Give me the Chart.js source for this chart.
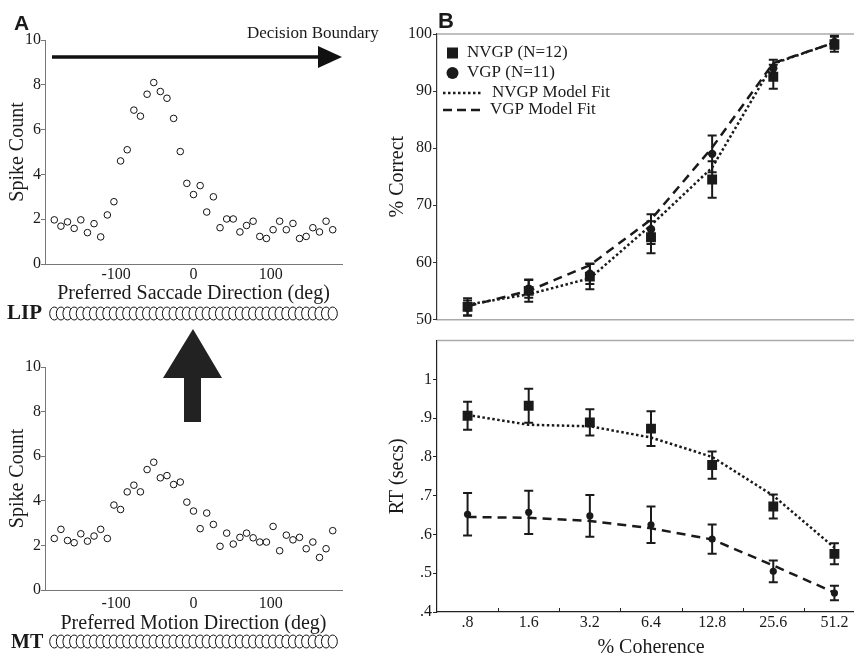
<!DOCTYPE html>
<html><head><meta charset="utf-8">
<script src="https://cdn.jsdelivr.net/npm/chart.js@4.4.0/dist/chart.umd.min.js"></script>
<style>
html,body{margin:0;padding:0;background:#fff;width:854px;height:658px;overflow:hidden;position:relative;}
canvas{position:absolute;}
.lbl{position:absolute;font-family:'Liberation Serif',serif;color:#1a1a1a;white-space:nowrap;line-height:1;}
.pl{font-family:'Liberation Sans',Arial,sans-serif;font-weight:bold;}
</style></head><body>
<canvas id="lip" width="360" height="330" style="left:0;top:0"></canvas>
<canvas id="mt" width="360" height="331" style="left:0;top:327px"></canvas>
<canvas id="acc" width="490" height="330" style="left:380px;top:0"></canvas>
<canvas id="rt" width="490" height="330" style="left:380px;top:330px"></canvas>
<svg style="position:absolute;left:0;top:0" width="854" height="658">
  <line x1="52" y1="57" x2="320" y2="57" stroke="#111" stroke-width="3.5"/>
  <polygon points="318,46 342,57 318,68" fill="#111"/>
  <polygon points="193,329 163,378 184,378 184,422 201,422 201,378 222,378" fill="#222"/>
</svg>
<div class="lbl pl" style="left:14px;top:12px;font-size:21px">A</div>
<div class="lbl pl" style="left:438px;top:10px;font-size:22px">B</div>
<div class="lbl" style="left:247px;top:24px;font-size:17px">Decision Boundary</div>
<div class="lbl" style="left:7px;top:302px;font-size:21px;font-weight:bold">LIP</div>
<div class="lbl" style="left:11px;top:631px;font-size:20px;font-weight:bold">MT</div>
<script>
// ---------- Panel A data ----------
const directions = [-180,-171.4,-162.9,-154.3,-145.7,-137.1,-128.6,-120,-111.4,-102.9,-94.3,-85.7,-77.1,-68.6,-60,-51.4,-42.9,-34.3,-25.7,-17.1,-8.6,0,8.6,17.1,25.7,34.3,42.9,51.4,60,68.6,77.1,85.7,94.3,102.9,111.4,120,128.6,137.1,145.7,154.3,162.9,171.4,180];
const lipSpikes = [1.97,1.69,1.88,1.59,1.97,1.40,1.80,1.21,2.19,2.78,4.6,5.1,6.87,6.6,7.58,8.1,7.7,7.4,6.5,5.02,3.6,3.1,3.5,2.32,3.0,1.62,2.01,2.01,1.43,1.72,1.91,1.23,1.14,1.53,1.91,1.53,1.81,1.14,1.23,1.62,1.43,1.91,1.53];
const mtSpikes = [2.31,2.72,2.22,2.12,2.52,2.19,2.42,2.72,2.31,3.81,3.61,4.40,4.70,4.40,5.40,5.73,5.03,5.13,4.73,4.84,3.94,3.54,2.75,3.45,2.94,1.96,2.55,2.06,2.36,2.55,2.34,2.15,2.15,2.85,1.76,2.46,2.25,2.36,1.85,2.15,1.46,1.85,2.66];
const dirTicks = [-100, 0, 100];
const dirTickLabels = ['-100', '0', '100'];
const spikeTicks = [0, 2, 4, 6, 8, 10];

// ---------- Panel B data ----------
const coherence = ['.8', '1.6', '3.2', '6.4', '12.8', '25.6', '51.2'];
const nvgpAcc = [52.2, 55.0, 57.5, 64.4, 74.5, 92.5, 98.2];
const nvgpAccErr = [1.5, 1.9, 2.2, 2.8, 3.2, 2.1, 1.3];
const vgpAcc = [52.0, 55.4, 58.0, 65.8, 79.0, 94.0, 98.6];
const vgpAccErr = [1.3, 1.6, 1.8, 2.6, 3.2, 1.5, 1.2];
const nvgpAccFit = [52.6, 54.4, 57.2, 66.5, 76.6, 94.8, 98.5];
const vgpAccFit = [52.3, 55.0, 59.5, 67.5, 80.1, 94.9, 98.5];
const accTicks = [50, 60, 70, 80, 90, 100];

const nvgpRT = [0.906, 0.932, 0.889, 0.873, 0.779, 0.672, 0.550];
const nvgpRTErr = [0.036, 0.044, 0.034, 0.045, 0.035, 0.031, 0.027];
const vgpRT = [0.652, 0.657, 0.648, 0.625, 0.588, 0.505, 0.449];
const vgpRTErr = [0.055, 0.056, 0.054, 0.047, 0.038, 0.028, 0.019];
const nvgpRTFit = [0.908, 0.883, 0.879, 0.850, 0.800, 0.700, 0.566];
const vgpRTFit = [0.645, 0.643, 0.635, 0.616, 0.587, 0.520, 0.450];
const rtTicks = [0.4, 0.5, 0.6, 0.7, 0.8, 0.9, 1.0];
const rtTickLabels = ['.4', '.5', '.6', '.7', '.8', '.9', '1'];

const SERIF = "'Liberation Serif', 'Times New Roman', serif";
const INK = '#1a1a1a';

// neuron row (decorative population of tuned neurons, placed at each preferred direction)
const neuronRow = {
  id: 'neuronRow',
  afterDraw(chart, args, opts) {
    const ctx = chart.ctx, xs = chart.scales.x;
    const y = chart.chartArea.bottom + opts.offset;
    ctx.save();
    ctx.lineWidth = 1; ctx.strokeStyle = '#111'; ctx.fillStyle = '#fff';
    directions.forEach(d => {
      ctx.beginPath();
      ctx.ellipse(xs.getPixelForValue(d), y, 4.6, 6.5, 0, 0, Math.PI * 2);
      ctx.fill(); ctx.stroke();
    });
    ctx.restore();
  }
};

function spikeChart(id, values, title, xAxisH, padBottom, tickPad, rowOffset) {
  return new Chart(document.getElementById(id), {
    type: 'scatter',
    data: { datasets: [{
      data: directions.map((d, i) => ({ x: d, y: values[i] })),
      pointRadius: 3.3, pointBorderWidth: 1, pointBorderColor: '#111', pointBackgroundColor: '#fff', showLine: false
    }]},
    options: {
      responsive: false, animation: false, devicePixelRatio: 1,
      layout: { autoPadding: false, padding: { left: 0, top: 40, right: 18, bottom: padBottom } },
      plugins: { legend: { display: false }, tooltip: { enabled: false }, neuronRow: { offset: rowOffset } },
      scales: {
        x: {
          type: 'linear', min: -192, max: 192,
          afterBuildTicks: s => { s.ticks = dirTicks.map(v => ({ value: v })); },
          afterFit: s => { s.height = xAxisH; },
          ticks: { callback: (v, i) => dirTickLabels[i], font: { family: SERIF, size: 16 }, color: INK, padding: tickPad, maxRotation: 0 },
          grid: { drawOnChartArea: false, drawTicks: false },
          border: { color: '#777', width: 1 },
          title: { display: true, text: title, font: { family: SERIF, size: 20, lineHeight: 1.2 }, color: INK, padding: { top: 0, bottom: 0 } }
        },
        y: {
          min: 0, max: 10,
          afterBuildTicks: s => { s.ticks = spikeTicks.map(v => ({ value: v })); },
          afterFit: s => { s.width = 45; },
          ticks: { font: { family: SERIF, size: 16 }, color: INK, padding: 0 },
          grid: { drawOnChartArea: false, tickLength: 4, tickColor: '#777' },
          border: { color: '#777', width: 1 },
          title: { display: true, text: 'Spike Count', font: { family: SERIF, size: 20, lineHeight: 1.2 }, color: INK, padding: { top: 6, bottom: 0 } }
        }
      }
    },
    plugins: [neuronRow]
  });
}

spikeChart('lip', lipSpikes, 'Preferred Saccade Direction (deg)', 42, 24, 1, 49.5);
spikeChart('mt', mtSpikes, 'Preferred Motion Direction (deg)', 46, 22, 4, 51.5);

// error bars drawn through the chart's scales
const errorBars = {
  id: 'errorBars',
  afterDatasetsDraw(chart) {
    const ctx = chart.ctx, ys = chart.scales.y;
    ctx.save();
    ctx.strokeStyle = '#1a1a1a'; ctx.lineWidth = 2;
    chart.data.datasets.forEach((ds, di) => {
      if (!ds.errors) return;
      const meta = chart.getDatasetMeta(di);
      meta.data.forEach((pt, i) => {
        const v = ds.data[i], e = ds.errors[i];
        const y1 = ys.getPixelForValue(v + e), y2 = ys.getPixelForValue(v - e);
        const x = pt.x;
        ctx.beginPath();
        ctx.moveTo(x, y1); ctx.lineTo(x, y2);
        ctx.moveTo(x - 4.5, y1); ctx.lineTo(x + 4.5, y1);
        ctx.moveTo(x - 4.5, y2); ctx.lineTo(x + 4.5, y2);
        ctx.stroke();
      });
    });
    ctx.restore();
  }
};

// top frame rule + inner ticks + legend
const frame = {
  id: 'frame',
  afterDraw(chart, args, opts) {
    const ctx = chart.ctx, a = chart.chartArea;
    ctx.save();
    ctx.strokeStyle = '#aaa'; ctx.lineWidth = 1.5;
    ctx.beginPath(); ctx.moveTo(a.left, a.top); ctx.lineTo(chart.width, a.top); ctx.stroke();
    if (opts.innerTicks) {
      const xs = chart.scales.x;
      ctx.strokeStyle = '#222'; ctx.lineWidth = 1;
      for (let i = 0; i < coherence.length - 1; i++) {
        const x = Math.round((xs.getPixelForValue(i) + xs.getPixelForValue(i + 1)) / 2) + 0.5;
        ctx.beginPath(); ctx.moveTo(x, a.bottom); ctx.lineTo(x, a.bottom - 4); ctx.stroke();
      }
    }
    if (opts.legend) {
      const L = a.left;
      ctx.fillStyle = INK; ctx.strokeStyle = INK;
      ctx.font = '17px ' + SERIF; ctx.textBaseline = 'middle';
      // square
      ctx.fillRect(L + 10, 47.5, 11, 11);
      ctx.fillText('NVGP (N=12)', L + 30, 53);
      // circle
      ctx.beginPath(); ctx.arc(L + 15.5, 73, 6, 0, Math.PI * 2); ctx.fill();
      ctx.fillText('VGP (N=11)', L + 30, 73);
      // dotted
      ctx.lineWidth = 2.5;
      ctx.setLineDash([2.5, 2.5]);
      ctx.beginPath(); ctx.moveTo(L + 6, 93); ctx.lineTo(L + 46, 93); ctx.stroke();
      ctx.fillText('NVGP Model Fit', L + 55, 93);
      ctx.setLineDash([9, 5]);
      ctx.beginPath(); ctx.moveTo(L + 6, 110); ctx.lineTo(L + 46, 110); ctx.stroke();
      ctx.setLineDash([]);
      ctx.fillText('VGP Model Fit', L + 53, 110);
    }
    ctx.restore();
  }
};

function groupDatasets(nv, nvErr, vg, vgErr, nvFit, vgFit, sq, circ) {
  return [
    { label: 'NVGP Model Fit', data: nvFit, borderColor: INK, borderWidth: 2.5, borderDash: [2.5, 2.5], pointRadius: 0, tension: 0, fill: false },
    { label: 'VGP Model Fit', data: vgFit, borderColor: INK, borderWidth: 2.5, borderDash: [9, 6], pointRadius: 0, tension: 0, fill: false },
    { label: 'NVGP (N=12)', data: nv, errors: nvErr, showLine: false, pointStyle: 'rect', pointRadius: sq, pointBackgroundColor: INK, pointBorderColor: INK, pointBorderWidth: 0 },
    { label: 'VGP (N=11)', data: vg, errors: vgErr, showLine: false, pointStyle: 'circle', pointRadius: circ, pointBackgroundColor: INK, pointBorderColor: INK, pointBorderWidth: 0 }
  ];
}

new Chart(document.getElementById('acc'), {
  type: 'line',
  data: { labels: coherence, datasets: groupDatasets(nvgpAcc, nvgpAccErr, vgpAcc, vgpAccErr, nvgpAccFit, vgpAccFit, 7, 4.2) },
  options: {
    responsive: false, animation: false, devicePixelRatio: 1,
    layout: { autoPadding: false, padding: { left: 0, top: 34, right: 5, bottom: 8 } },
    plugins: { legend: { display: false }, tooltip: { enabled: false }, frame: { legend: true } },
    scales: {
      x: { type: 'category', offset: true,
        afterFit: s => { s.height = 0; },
        ticks: { display: false }, grid: { drawOnChartArea: false, drawTicks: false },
        border: { color: '#aaa', width: 1.5 } },
      y: { min: 50, max: 100,
        afterBuildTicks: s => { s.ticks = accTicks.map(v => ({ value: v })); },
        afterFit: s => { s.width = 57; },
        ticks: { font: { family: SERIF, size: 16 }, color: INK, padding: 1 },
        grid: { drawOnChartArea: false, tickLength: 4, tickColor: '#333' },
        border: { color: '#333', width: 1.2 },
        title: { display: true, text: '% Correct', font: { family: SERIF, size: 20, lineHeight: 1.2 }, color: INK, padding: { top: 6, bottom: 0 } } }
    }
  },
  plugins: [errorBars, frame]
});

new Chart(document.getElementById('rt'), {
  type: 'line',
  data: { labels: coherence, datasets: groupDatasets(nvgpRT, nvgpRTErr, vgpRT, vgpRTErr, nvgpRTFit, vgpRTFit, 7, 3.6) },
  options: {
    responsive: false, animation: false, devicePixelRatio: 1,
    layout: { autoPadding: false, padding: { left: 0, top: 7, right: 5, bottom: 0 } },
    plugins: { legend: { display: false }, tooltip: { enabled: false }, frame: { innerTicks: true } },
    scales: {
      x: { type: 'category', offset: true,
        afterFit: s => { s.height = 48; },
        ticks: { font: { family: SERIF, size: 16 }, color: INK, padding: 1, maxRotation: 0 },
        grid: { drawOnChartArea: false, drawTicks: false },
        border: { color: '#222', width: 1.2 },
        title: { display: true, text: '% Coherence', font: { family: SERIF, size: 20, lineHeight: 1.2 }, color: INK, padding: { top: 0, bottom: 0 } } },
      y: { min: 0.4, max: 1.1,
        afterBuildTicks: s => { s.ticks = rtTicks.map(v => ({ value: v })); },
        afterFit: s => { s.width = 57; },
        ticks: { callback: (v, i) => rtTickLabels[i], font: { family: SERIF, size: 16 }, color: INK, padding: 1 },
        grid: { drawOnChartArea: false, tickLength: 4, tickColor: '#222' },
        border: { color: '#222', width: 1.2 },
        title: { display: true, text: 'RT (secs)', font: { family: SERIF, size: 20, lineHeight: 1.2 }, color: INK, padding: { top: 6, bottom: 0 } } }
    }
  },
  plugins: [errorBars, frame]
});
</script>
</body></html>
